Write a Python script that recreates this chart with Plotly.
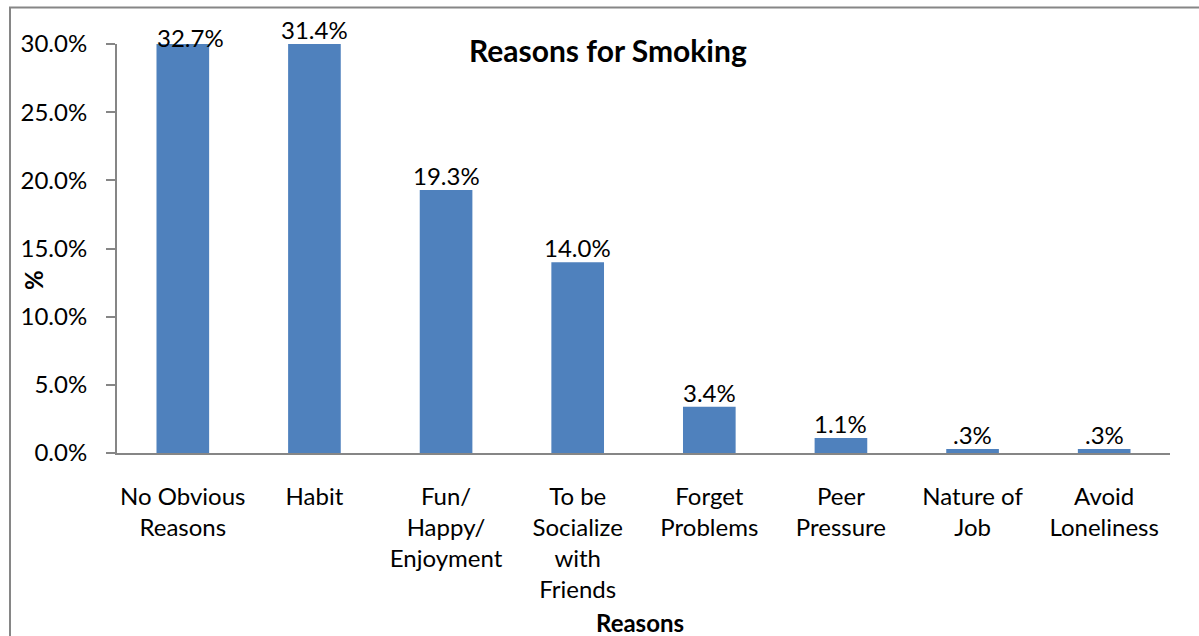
import plotly.graph_objects as go

# Survey results: reasons given for smoking (percent of respondents)
reasons = [
    "No Obvious<br>Reasons",
    "Habit",
    "Fun/<br>Happy/<br>Enjoyment",
    "To be<br>Socialize<br>with<br>Friends",
    "Forget<br>Problems",
    "Peer<br>Pressure",
    "Nature of<br>Job",
    "Avoid<br>Loneliness",
]
percent = [32.7, 31.4, 19.3, 14.0, 3.4, 1.1, 0.3, 0.3]
value_labels = ["32.7%", "31.4%", "19.3%", "14.0%", "3.4%", "1.1%", ".3%", ".3%"]

y_max = 30.0
y_ticks = [0, 5, 10, 15, 20, 25, 30]
y_tick_text = ["0.0%", "5.0%", "10.0%", "15.0%", "20.0%", "25.0%", "30.0%"]

FONT = "Lato"
BLUE = "#4F81BD"
GRAY = "#868686"
FS = 24

W, H = 1199, 636
L, R, T, B = 117, 29, 44, 183
pw, ph = W - L - R, H - T - B

fig = go.Figure(
    go.Bar(
        x=list(range(len(reasons))),
        y=percent,
        width=0.4,
        marker=dict(color=BLUE, line=dict(width=0)),
        hoverinfo="skip",
    )
)

# value labels above each bar; bars taller than the axis are labelled at its top
for i, (v, lab) in enumerate(zip(percent, value_labels)):
    dx, dy = (8, -10) if i == 0 else (0, -2)
    fig.add_annotation(
        x=i, y=min(v, y_max), xref="x", yref="y",
        text=lab, showarrow=False, yanchor="bottom",
        xshift=dx, yshift=dy,
        font=dict(family=FONT, size=FS, color="#000000"),
    )

def px_to_paper_x(px):
    return (px - L) / pw

def px_to_paper_y(py):
    return (H - B - py) / ph

# chart title and axis titles
fig.add_annotation(
    x=px_to_paper_x(608), y=px_to_paper_y(50), xref="paper", yref="paper",
    xanchor="center", yanchor="middle",
    text="<b>Reasons for Smoking</b>", showarrow=False,
    font=dict(family=FONT, size=30, color="#000000"),
)
fig.add_annotation(
    x=px_to_paper_x(640), y=px_to_paper_y(622), xref="paper", yref="paper",
    xanchor="center", yanchor="middle",
    text="<b>Reasons</b>", showarrow=False,
    font=dict(family=FONT, size=FS, color="#000000"),
)
fig.add_annotation(
    x=px_to_paper_x(33), y=px_to_paper_y(280), xref="paper", yref="paper",
    xanchor="center", yanchor="middle",
    text="<b>%</b>", showarrow=False, textangle=-90,
    font=dict(family=FONT, size=FS, color="#000000"),
)

# chart-area frame (left and top edges)
x0 = px_to_paper_x(10)
y0 = px_to_paper_y(7.5)
fig.add_shape(
    type="path", xref="paper", yref="paper",
    path=f"M {x0} {px_to_paper_y(H + 10)} L {x0} {y0} L {px_to_paper_x(W + 10)} {y0}",
    line=dict(color=GRAY, width=2),
)

fig.update_layout(
    width=W, height=H,
    margin=dict(l=L, r=R, t=T, b=B),
    paper_bgcolor="white", plot_bgcolor="white",
    showlegend=False,
    font=dict(family=FONT, size=FS, color="#000000"),
    xaxis=dict(
        tickmode="array", tickvals=list(range(len(reasons))), ticktext=reasons,
        range=[-0.5, len(reasons) - 0.5],
        showline=True, linecolor=GRAY, linewidth=2,
        ticks="", showgrid=False, zeroline=False,
        ticklabelstandoff=21,
        tickfont=dict(family=FONT, size=FS),
    ),
    yaxis=dict(
        range=[0, y_max], tickmode="array", tickvals=y_ticks, ticktext=y_tick_text,
        showline=True, linecolor=GRAY, linewidth=2,
        ticks="outside", ticklen=9, tickcolor=GRAY, tickwidth=1.5,
        showgrid=False, zeroline=False,
        ticklabelstandoff=14,
        tickfont=dict(family=FONT, size=FS),
    ),
)

fig.write_html("out.html")
